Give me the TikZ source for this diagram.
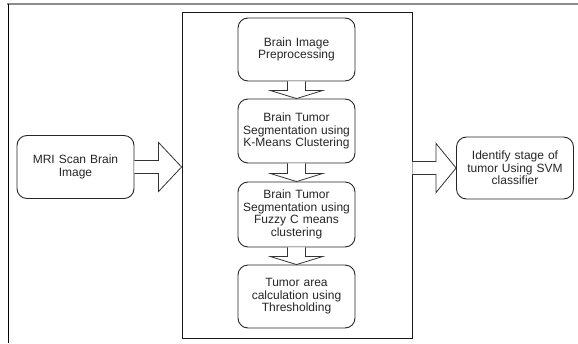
\documentclass[tikz,border=0pt]{standalone}
\usepackage{fontspec}
\setmainfont{Liberation Sans}
\usepackage{tikz}
\usetikzlibrary{positioning, calc}

\newcommand{\downblock}[2]{%
  \draw[blk] ($(#1.south)+(-9,0)$) -- ($(#2.north)+(-9,-8)$) -- ($(#2.north)+(-26,-8)$)
    -- (#2.north) -- ($(#2.north)+(26,-8)$) -- ($(#2.north)+(9,-8)$) -- ($(#1.south)+(9,0)$);}

\begin{document}
\begin{tikzpicture}[
    x=1pt, y=-1pt,
    step box/.style = {rectangle, rounded corners=10pt, draw=black!85, line width=0.9pt,
                       fill=white, minimum width=117pt, text width=113pt,
                       align=center, inner sep=1pt,
                       font=\fontsize{12}{12.5}\selectfont\color{black!85}},
    frame/.style    = {rectangle, draw=black!90, line width=0.9pt,
                       minimum width=230pt, minimum height=326pt, inner sep=0pt},
    blk/.style      = {draw=black!80, line width=0.8pt, fill=white, line join=miter},
  ]
    \useasboundingbox (0,0) rectangle (578,343);

    % ── Page border ──────────────────────────────────────────
    \coordinate (tl) at (7,4);
    \coordinate (tr) at (578,4);
    \coordinate (bl) at (8,343);
    \draw[black!45, line width=1.6pt] (tl) -- (tr);
    \draw[black, line width=1pt] (bl) -- (8,4);

    % ── Processing block ─────────────────────────────────────
    \node[frame] (sys) at (297,175) {};

    \node[step box, minimum height=63pt] (pre)  at (296.5,49.5)  {Brain Image\\Preprocessing};
    \node[step box, minimum height=64pt] (kmc)  at (296.5,131)   {Brain Tumor\\Segmentation using\\K-Means Clustering};
    \node[step box, minimum height=65pt] (fcm)  at (296.5,214.5) {Brain Tumor\\Segmentation using\\Fuzzy C means\\clustering};
    \node[step box, minimum height=63pt] (area) at (296.5,296.5) {Tumor area\\calculation using\\Thresholding};

    \downblock{pre}{kmc}
    \downblock{kmc}{fcm}
    \downblock{fcm}{area}

    % ── Input / output ───────────────────────────────────────
    \node[step box, minimum height=63pt] (mri) at (75.5,167)  {MRI Scan Brain\\Image};
    \node[step box, minimum height=62pt] (svm) at (515,168)   {Identify stage of\\tumor Using SVM\\classifier};

    \draw[blk] ($(mri.east)+(0,-6.5)$) -- ($(mri.east -| sys.west)+(-23,-6.5)$)
      -- ($(mri.east -| sys.west)+(-23,-24.5)$) -- (mri.east -| sys.west)
      -- ($(mri.east -| sys.west)+(-23,24.5)$) -- ($(mri.east -| sys.west)+(-23,6.5)$)
      -- ($(mri.east)+(0,6.5)$);
    \draw[blk] ($(sys.east |- svm.west)+(0,-6.5)$) -- ($(svm.west)+(-20,-6.5)$)
      -- ($(svm.west)+(-20,-24.5)$) -- (svm.west)
      -- ($(svm.west)+(-20,24.5)$) -- ($(svm.west)+(-20,6.5)$)
      -- ($(sys.east |- svm.west)+(0,6.5)$);

  \end{tikzpicture}
\end{document}
